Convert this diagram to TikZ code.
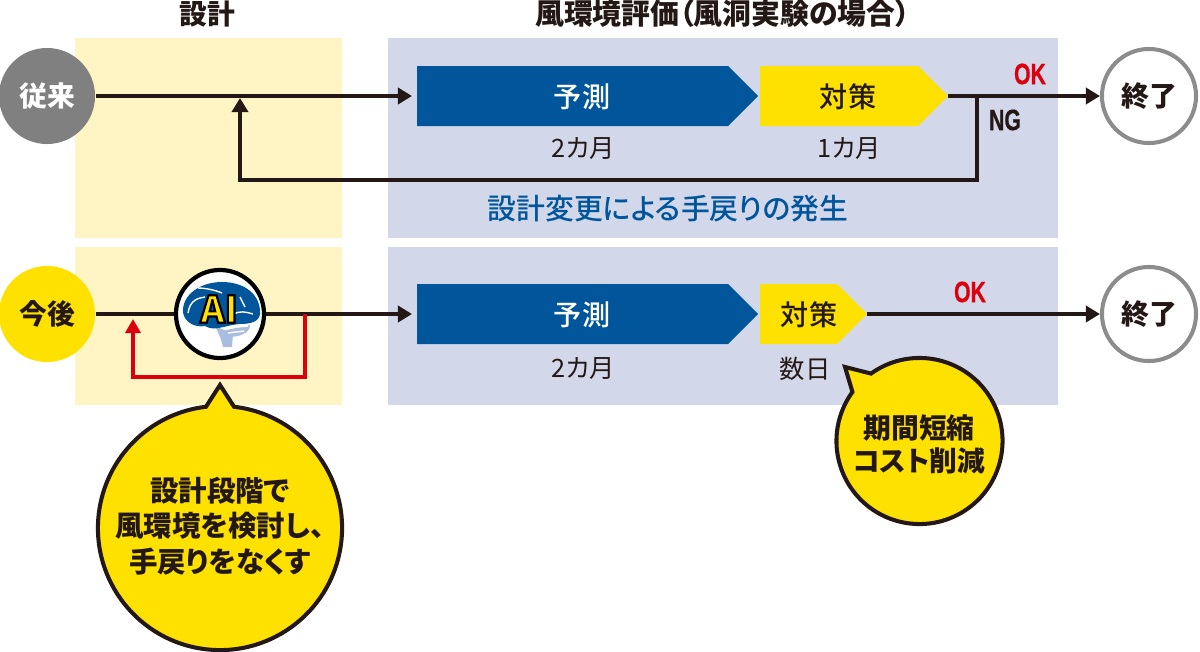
\documentclass[tikz,border=0pt]{standalone}
\usepackage{fontspec}
\usetikzlibrary{arrows.meta,calc}
\setmainfont{Noto Sans CJK JP}[RawFeature=+palt]
\newfontfamily\jpmid{Noto Sans CJK JP Medium}[RawFeature=+palt]
\newfontfamily\jpheavy{Noto Sans CJK JP Black}
\newfontfamily\verdictfont{Liberation Sans}[FakeStretch=0.72, BoldFeatures={FakeBold=0.6}]
\definecolor{inkblack}{HTML}{231815}
\definecolor{bandyellow}{HTML}{FFF5C4}
\definecolor{bandblue}{HTML}{D2D8EA}
\definecolor{tagblue}{HTML}{00559B}
\definecolor{tagyellow}{HTML}{FFE100}
\definecolor{okred}{HTML}{DC000C}
\definecolor{ringgray}{HTML}{8C8C8C}
\definecolor{brainpale}{HTML}{A9BEDF}
\def\tagshape[#1](#2)(#3:#4:#5){
	\fill[#1] (#3,#5-30) -- (#4-30,#5-30) -- (#4,#5) -- (#4-30,#5+30) -- (#3,#5+30) -- cycle;
	\coordinate (#2in) at (#3-5,#5);
	\coordinate (#2tip) at (#4,#5);
}
\def\strokedtext#1{\special{pdf:code q 2 Tr 0.6 w 0 0 0 RG}#1\special{pdf:code Q}}
\tikzset{
	x=0.01cm, y=-0.01cm,
	flow/.style={draw=inkblack, line width=1pt, line join=miter},
	flowarrow/.style={flow, -{Triangle[length=1.4mm,width=1.6mm]}},
	redarrow/.style={draw=okred, line width=1pt, -{Triangle[length=1.4mm,width=1.5mm]}},
	lead/.style={circle, minimum size=0.96cm, inner sep=0pt, font=\fontsize{7.9pt}{9pt}\selectfont\bfseries},
	finish/.style={circle, draw=ringgray, line width=1.15pt, fill=white, minimum size=0.94cm, inner sep=0pt, text=inkblack, font=\fontsize{7.9pt}{9pt}\selectfont\bfseries},
	taglabel/.style={font=\fontsize{8pt}{9pt}\jpmid\selectfont},
	timelabel/.style={text=inkblack, font=\fontsize{7.2pt}{9pt}\selectfont},
	headlabel/.style={text=inkblack, font=\fontsize{7.9pt}{9pt}\selectfont\bfseries},
	reworklabel/.style={text=tagblue, font=\fontsize{8.2pt}{9pt}\jpmid\selectfont},
	verdict/.style={font=\fontsize{8.4pt}{9pt}\verdictfont\bfseries},
	bubble/.style={draw=inkblack, fill=tagyellow, line width=1.15pt, line join=miter},
	bubbletext/.style={align=center, text=inkblack, font=\fontsize{8.1pt}{10.1pt}\selectfont\bfseries},
}
\begin{document}
\begin{tikzpicture}
	%%%%% START %%%%%
	\useasboundingbox (0,0) rectangle (1200,651);

	\fill[bandyellow] (75,38) rectangle (342,238);
	\fill[bandblue] (388,38) rectangle (1058,238);
	\fill[bandyellow] (75,247) rectangle (342,405);
	\fill[bandblue] (388,247) rectangle (1058,405);

	\node[headlabel] (headdesign) at (207,14) {設計};
	\node[headlabel, font=\fontsize{8.2pt}{9pt}\selectfont\bfseries] (headwind) at (722.5,14) {風環境評価（風洞実験の場合）};

	% upper row
	\tagshape[fill=tagblue](predA)(417:758:96)
	\tagshape[fill=tagyellow](fixA)(760:948:96)
	\node[taglabel, text=white] (predAtext) at (582,97) {予測};
	\node[taglabel, text=inkblack] (fixAtext) at (848,97) {対策};
	\node[timelabel] (predAtime) at (583,149) {2カ月};
	\node[timelabel] (fixAtime) at (849,149) {1カ月};
	\node[lead, fill=gray, text=white] (past) at (47,96) {従来};
	\node[finish] (endA) at (1149,96) {終了};
	\node[verdict, text=okred] (okA) at (1030,74) {OK};
	\node[verdict, text=inkblack] (ngA) at (1005,120) {NG};
	\node[reworklabel] (rework) at (668,209) {設計変更による手戻りの発生};

	\coordinate (nghook) at (977,96);
	\coordinate (ngfoot) at (977,180);
	\coordinate (backfoot) at (240,180);
	\coordinate (backtip) at (240,98);
	\draw[flowarrow] (past) -- (predAin);
	\draw[flowarrow] (fixAtip) -- (endA);
	\draw[flowarrow] (nghook) -- (ngfoot) -- (backfoot) -- (backtip);

	% lower row
	\tagshape[fill=tagblue](predB)(417:758:314)
	\tagshape[fill=tagyellow](fixB)(760:867:314)
	\node[taglabel, text=white] (predBtext) at (582,315) {予測};
	\node[taglabel, text=inkblack] (fixBtext) at (809,315) {対策};
	\node[timelabel] (predBtime) at (583,369) {2カ月};
	\node[timelabel] (fixBtime) at (805,369) {数日};
	\node[lead, fill=tagyellow, text=inkblack] (future) at (47,314) {今後};
	\node[finish] (endB) at (1149,314) {終了};
	\node[verdict, text=okred] (okB) at (970,292) {OK};
	\node[circle, draw=black, line width=1.2pt, fill=white, minimum size=0.88cm, inner sep=0pt] (brain) at (220,314) {};

	\coordinate (redhook) at (305,314);
	\coordinate (redfoot) at (305,377);
	\coordinate (redback) at (133,377);
	\coordinate (redtip) at (133,319);
	\draw[flow] (future) -- (brain);
	\draw[flowarrow] (brain) -- (predBin);
	\draw[flowarrow] (fixBtip) -- (endB);
	\draw[redarrow] (redhook) -- (redfoot) -- (redback) -- (redtip);

	% brain inside the AI circle
	\fill[brainpale] (215,326) .. controls (220,336) and (222,342) .. (223,347) -- (232,347) -- (233,334) -- cycle;
	\fill[brainpale] (222,331) -- (250,325) .. controls (250,333) and (240,337) .. (228,337) -- cycle;
	\fill[tagblue] (183,312) .. controls (182,295) and (200,282) .. (222,282)
		.. controls (245,282) and (261,295) .. (260,314)
		.. controls (259,322) and (250,324) .. (240,324)
		.. controls (225,325) and (215,332) .. (205,326)
		.. controls (195,328) and (184,322) .. (183,312) -- cycle;
	\draw[white, line width=0.4pt] (188,313) .. controls (190,300) and (198,298) .. (205,297);
	\draw[white, line width=0.4pt] (198,288) .. controls (205,288) and (215,290) .. (222,293);
	\draw[white, line width=0.4pt] (232,315) .. controls (240,310) and (246,312) .. (253,314);
	\draw[white, line width=0.4pt] (240,297) -- (245,307);
	\draw[white, line width=0.4pt] (226,328) -- (248,326);
	\draw[white, line width=0.4pt] (228,333) -- (244,331);
	\node[font=\fontsize{10.5pt}{10.5pt}\jpheavy, inner sep=0pt, text=tagyellow] (brainlabel) at (219,309) {\strokedtext{AI}};

	% speech bubbles
	\coordinate (bubbleAc) at (220,528);
	\coordinate (bubbleAtip) at (220,385);
	\draw[bubble] (bubbleAtip) -- ($(bubbleAc)+(83.4:1.22cm)$) arc[start angle=83.4, end angle=-263.4, radius=1.22cm] -- cycle;
	\node[bubbletext] (bubbleAtext) at (220,526) {設計段階で\\風環境を検討し、\\手戻りをなくす};

	\coordinate (bubbleBc) at (919.5,441);
	\coordinate (bubbleBtip) at (845,367);
	\draw[bubble] (bubbleBtip) -- ($(bubbleBc)+(125.7:0.83cm)$) arc[start angle=125.7, end angle=-216.2, radius=0.83cm] -- cycle;
	\node[bubbletext, font=\fontsize{7.9pt}{9.4pt}\selectfont\bfseries] (bubbleBtext) at (919,444) {期間短縮\\コスト削減};
	%%%%% END %%%%%
\end{tikzpicture}
\end{document}
